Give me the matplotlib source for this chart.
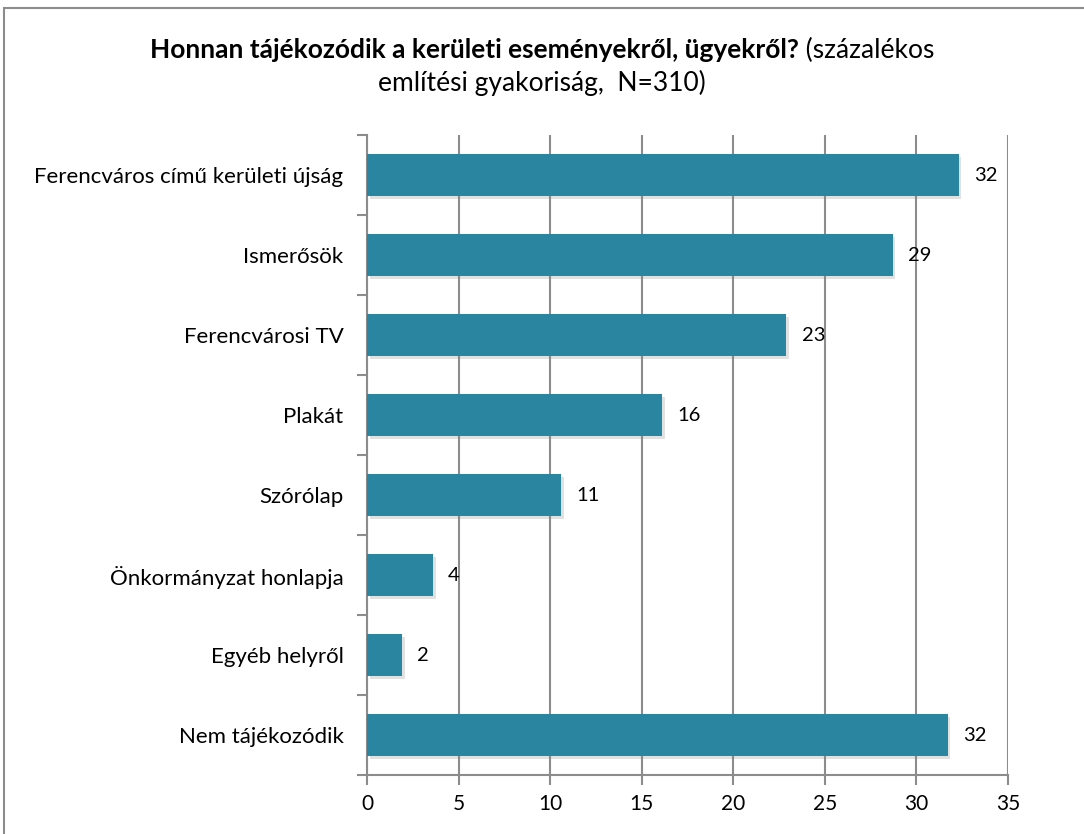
import matplotlib.pyplot as plt
import matplotlib.patheffects as pe
from matplotlib.patches import Rectangle
import numpy as np

plt.rcParams['font.family'] = ['Lato', 'DejaVu Sans']

categories = ['Ferencváros című kerületi újság', 'Ismerősök', 'Ferencvárosi TV',
              'Plakát', 'Szórólap', 'Önkormányzat honlapja', 'Egyéb helyről',
              'Nem tájékozódik']
values = [32.3, 28.7, 22.9, 16.1, 10.6, 3.6, 1.9, 31.7]
xticks = [0, 5, 10, 15, 20, 25, 30, 35]

bar_color = '#2A86A0'
grid_color = '#8C8C8C'

fig = plt.figure(figsize=(10.84, 8.34), dpi=100)
ax = fig.add_axes([0.3386, 0.0707, 0.5913, 0.7674])

# frame around the whole chart
fig.patches.append(Rectangle((0.004, -0.05), 1.2, 1.05 - 0.0096,
                             transform=fig.transFigure, fill=False,
                             edgecolor='#8C8C8C', linewidth=1.5))

y = np.arange(len(categories))
bars = ax.barh(y, values, height=0.52, color=bar_color, zorder=3)
for b in bars:
    b.set_path_effects([pe.SimplePatchShadow(offset=(2, -2), shadow_rgbFace='#888888', alpha=0.25),
                        pe.Normal()])

for yi, v in zip(y, values):
    ax.annotate(f'{v:.0f}', (v, yi), xytext=(11, 0), textcoords='offset points',
                va='center', ha='left', fontsize=14.5)

ax.set_xlim(0, 35)
ax.set_ylim(len(categories) - 0.5, -0.5)
ax.set_xticks(xticks)
ax.set_xticklabels([str(t) for t in xticks], fontsize=15)
ax.set_yticks(y)
ax.set_yticklabels(categories, fontsize=16)
ax.set_yticks(np.arange(-0.5, len(categories)), minor=True)
ax.tick_params(axis='y', which='major', length=0, pad=17)
ax.tick_params(axis='y', which='minor', length=7, color=grid_color, width=1.5)
ax.tick_params(axis='x', length=7, color=grid_color, width=1.5, pad=7)

ax.grid(axis='x', color=grid_color, linewidth=1.5, zorder=0)
ax.set_axisbelow(True)
for s in ['top', 'right']:
    ax.spines[s].set_visible(False)
for s in ['left', 'bottom']:
    ax.spines[s].set_color(grid_color)
    ax.spines[s].set_linewidth(1.5)

# title: bold part followed by a normal part, then second line
bold_txt = 'Honnan tájékozódik a kerületi eseményekről, ügyekről?'
norm_txt = ' (százalékos'
fig.canvas.draw()
r = fig.canvas.get_renderer()
t1 = fig.text(0, 0, bold_txt, fontsize=19, fontweight='bold')
t2 = fig.text(0, 0, norm_txt, fontsize=19)
w1 = t1.get_window_extent(r).width / fig.bbox.width
w2 = t2.get_window_extent(r).width / fig.bbox.width
x0 = 0.5 - (w1 + w2) / 2
t1.set_position((x0, 0.94))
t2.set_position((x0 + w1, 0.94))
t1.set_va('center')
t2.set_va('center')
fig.text(0.5, 0.9, 'említési gyakoriság,  N=310)', fontsize=19, ha='center', va='center')

fig.savefig('out.png', dpi=100)
